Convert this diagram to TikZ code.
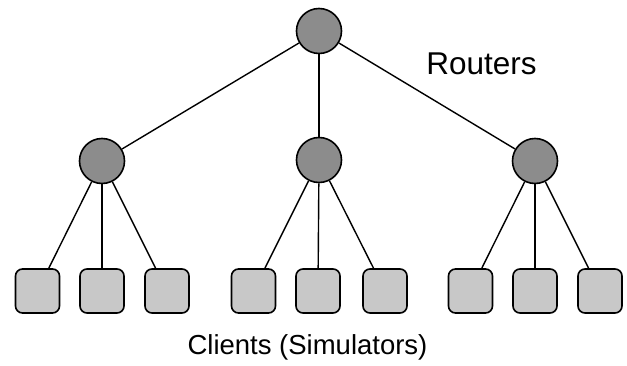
\documentclass[tikz,border=0pt]{standalone}
\usepackage{fontspec}
\setmainfont{Liberation Sans}
\begin{document}
\begin{tikzpicture}[x=1pt,y=-1pt,
  router/.style={circle,draw=black,line width=1.6pt,fill={rgb,255:red,140;green,140;blue,140},minimum size=45pt,inner sep=0pt},
  client/.style={rectangle,rounded corners=7pt,draw=black,line width=1.6pt,fill={rgb,255:red,200;green,200;blue,200},minimum size=44pt,inner sep=0pt},
  link/.style={line width=1.4pt,draw=black}]
\useasboundingbox (0,0) rectangle (627,366);
\node[router] (r0) at (319,31) {};
\node[router] (r1) at (102,161) {};
\node[router] (r2) at (319,160) {};
\node[router] (r3) at (535,161) {};
\node[client] (c1) at (37.5,291) {};
\node[client] (c2) at (102,291) {};
\node[client] (c3) at (167,291) {};
\node[client] (c4) at (253.5,291) {};
\node[client] (c5) at (318,291) {};
\node[client] (c6) at (385,291) {};
\node[client] (c7) at (470.5,291) {};
\node[client] (c8) at (535,291) {};
\node[client] (c9) at (600,291) {};
\foreach \m in {r1,r2,r3} \draw[link] (r0) -- (\m);
\foreach \c in {c1,c2,c3} \draw[link] (r1) -- (\c);
\foreach \c in {c4,c5,c6} \draw[link] (r2) -- (\c);
\foreach \c in {c7,c8,c9} \draw[link] (r3) -- (\c);
\node[font=\fontsize{31.5}{36}\selectfont,inner sep=0pt,anchor=base] (lr) at (481.5,75) {Routers};
\node[font=\fontsize{27.5}{32}\selectfont,inner sep=0pt,anchor=base] (lc) at (307.5,355) {Clients (Simulators)};
\end{tikzpicture}
\end{document}
